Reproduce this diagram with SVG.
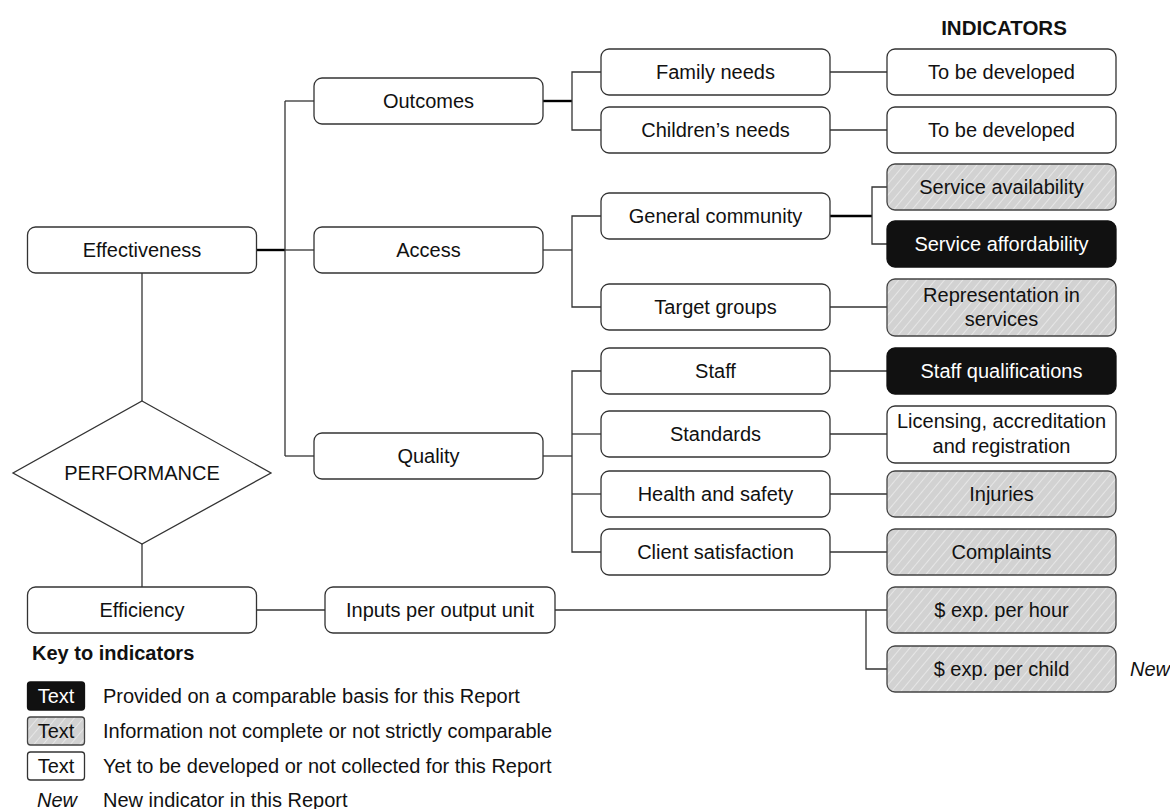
<svg xmlns="http://www.w3.org/2000/svg" width="1170" height="809" viewBox="0 0 1170 809">
<style>
  .box { fill: #ffffff; stroke: #333333; stroke-width: 1.3; }
  .hatch { fill: url(#hatch); stroke: #444444; stroke-width: 1.3; }
  .black { fill: #111111; stroke: #111111; stroke-width: 1.3; }
  .t { font-family: "Liberation Sans", Arial, sans-serif; font-size: 20px; fill: #111111; text-anchor: middle; }
  .tw { font-family: "Liberation Sans", Arial, sans-serif; font-size: 20px; fill: #ffffff; text-anchor: middle; }
  .tl { font-family: "Liberation Sans", Arial, sans-serif; font-size: 20px; fill: #111111; }
  .b { font-weight: bold; }
  .i { font-style: italic; }
  .c { stroke: #333333; stroke-width: 1.3; fill: none; }
  .ck { stroke: #000000; stroke-width: 2.4; fill: none; }
</style>
<defs>
  <pattern id="hatch" patternUnits="userSpaceOnUse" width="7" height="7" patternTransform="rotate(40)">
    <rect width="7" height="7" fill="#d2d2d2"/>
    <line x1="0" y1="0" x2="0" y2="7" stroke="#f2f2f2" stroke-width="1.3"/>
  </pattern>
</defs>
<rect width="1170" height="809" fill="#ffffff"/>

<g id="connectors">
  <line class="ck" x1="256" y1="250" x2="285" y2="250"/>
  <line class="c" x1="285" y1="101" x2="285" y2="456"/>
  <line class="c" x1="285" y1="101" x2="314" y2="101"/>
  <line class="c" x1="285" y1="250" x2="314" y2="250"/>
  <line class="c" x1="285" y1="456" x2="314" y2="456"/>
  <line class="c" x1="142" y1="273" x2="142" y2="401"/>
  <line class="c" x1="142" y1="544" x2="142" y2="587"/>
  <line class="ck" x1="543" y1="101" x2="572" y2="101"/>
  <polyline class="c" points="601,72 572,72 572,130 601,130"/>
  <line class="c" x1="543" y1="250" x2="572" y2="250"/>
  <polyline class="c" points="601,216 572,216 572,307 601,307"/>
  <line class="c" x1="543" y1="456" x2="572" y2="456"/>
  <polyline class="c" points="601,371 572,371 572,552 601,552"/>
  <line class="c" x1="572" y1="434" x2="601" y2="434"/>
  <line class="c" x1="572" y1="494" x2="601" y2="494"/>
  <line class="c" x1="830" y1="72" x2="887" y2="72"/>
  <line class="c" x1="830" y1="130" x2="887" y2="130"/>
  <line class="ck" x1="830" y1="216" x2="872" y2="216"/>
  <polyline class="c" points="887,187 872,187 872,244 887,244"/>
  <line class="c" x1="830" y1="307" x2="887" y2="307"/>
  <line class="c" x1="830" y1="371" x2="887" y2="371"/>
  <line class="c" x1="830" y1="434" x2="887" y2="434"/>
  <line class="c" x1="830" y1="494" x2="887" y2="494"/>
  <line class="c" x1="830" y1="552" x2="887" y2="552"/>
  <line class="c" x1="256" y1="610" x2="325" y2="610"/>
  <line class="c" x1="555" y1="610" x2="887" y2="610"/>
  <polyline class="c" points="866,610 866,669 887,669"/>
</g>

<g id="indicators-title"><text class="t b" x="1004" y="35" style="font-size:20.5px">INDICATORS</text></g>

<g id="performance">
  <polygon points="142,401 271,473 142,544 13,473" fill="#ffffff" stroke="#333333" stroke-width="1.3"/>
  <text class="t" x="142" y="480">PERFORMANCE</text>
</g>
<g id="effectiveness"><rect class="box" x="27.5" y="227" width="229" height="46" rx="8"/><text class="t" x="142" y="257">Effectiveness</text></g>
<g id="efficiency"><rect class="box" x="27.5" y="587" width="229" height="46" rx="8"/><text class="t" x="142" y="617">Efficiency</text></g>
<g id="outcomes"><rect class="box" x="314" y="78" width="229" height="46" rx="8"/><text class="t" x="428.5" y="108">Outcomes</text></g>
<g id="access"><rect class="box" x="314" y="227" width="229" height="46" rx="8"/><text class="t" x="428.5" y="257">Access</text></g>
<g id="quality"><rect class="box" x="314" y="433" width="229" height="46" rx="8"/><text class="t" x="428.5" y="463">Quality</text></g>
<g id="inputs"><rect class="box" x="325" y="587" width="230" height="46" rx="8"/><text class="t" x="440" y="617">Inputs per output unit</text></g>

<g id="family-needs"><rect class="box" x="601" y="49" width="229" height="46" rx="8"/><text class="t" x="715.5" y="79">Family needs</text></g>
<g id="childrens-needs"><rect class="box" x="601" y="107" width="229" height="46" rx="8"/><text class="t" x="715.5" y="137">Children’s needs</text></g>
<g id="general-community"><rect class="box" x="601" y="193" width="229" height="46" rx="8"/><text class="t" x="715.5" y="223">General community</text></g>
<g id="target-groups"><rect class="box" x="601" y="284" width="229" height="46" rx="8"/><text class="t" x="715.5" y="314">Target groups</text></g>
<g id="staff"><rect class="box" x="601" y="348" width="229" height="46" rx="8"/><text class="t" x="715.5" y="378">Staff</text></g>
<g id="standards"><rect class="box" x="601" y="411" width="229" height="46" rx="8"/><text class="t" x="715.5" y="441">Standards</text></g>
<g id="health-safety"><rect class="box" x="601" y="471" width="229" height="46" rx="8"/><text class="t" x="715.5" y="501">Health and safety</text></g>
<g id="client-satisfaction"><rect class="box" x="601" y="529" width="229" height="46" rx="8"/><text class="t" x="715.5" y="559">Client satisfaction</text></g>

<g id="tbd1"><rect class="box" x="887" y="49" width="229" height="46" rx="8"/><text class="t" x="1001.5" y="79">To be developed</text></g>
<g id="tbd2"><rect class="box" x="887" y="107" width="229" height="46" rx="8"/><text class="t" x="1001.5" y="137">To be developed</text></g>
<g id="service-availability"><rect class="hatch" x="887" y="164" width="229" height="46" rx="8"/><text class="t" x="1001.5" y="194">Service availability</text></g>
<g id="service-affordability"><rect class="black" x="887" y="221" width="229" height="46" rx="8"/><text class="tw" x="1001.5" y="251">Service affordability</text></g>
<g id="representation"><rect class="hatch" x="887" y="279" width="229" height="57" rx="8"/><text class="t" x="1001.5" y="302">Representation in</text><text class="t" x="1001.5" y="326">services</text></g>
<g id="staff-qualifications"><rect class="black" x="887" y="348" width="229" height="46" rx="8"/><text class="tw" x="1001.5" y="378">Staff qualifications</text></g>
<g id="licensing"><rect class="box" x="887" y="406" width="229" height="57" rx="8"/><text class="t" x="1001.5" y="428">Licensing, accreditation</text><text class="t" x="1001.5" y="453">and registration</text></g>
<g id="injuries"><rect class="hatch" x="887" y="471" width="229" height="46" rx="8"/><text class="t" x="1001.5" y="501">Injuries</text></g>
<g id="complaints"><rect class="hatch" x="887" y="529" width="229" height="46" rx="8"/><text class="t" x="1001.5" y="559">Complaints</text></g>
<g id="exp-hour"><rect class="hatch" x="887" y="587" width="229" height="46" rx="8"/><text class="t" x="1001.5" y="617">$ exp. per hour</text></g>
<g id="exp-child"><rect class="hatch" x="887" y="646" width="229" height="46" rx="8"/><text class="t" x="1001.5" y="676">$ exp. per child</text></g>
<g id="new-label"><text class="tl i" x="1130" y="676">New</text></g>

<g id="legend">
  <text class="tl b" x="32" y="660">Key to indicators</text>
  <rect class="black" x="27.5" y="682" width="57" height="28" rx="3"/>
  <text class="tw" x="56" y="703">Text</text>
  <text class="tl" x="103" y="703">Provided on a comparable basis for this Report</text>
  <rect class="hatch" x="27.5" y="717" width="57" height="28" rx="3"/>
  <text class="t" x="56" y="738">Text</text>
  <text class="tl" x="103" y="738">Information not complete or not strictly comparable</text>
  <rect class="box" x="27.5" y="752" width="57" height="28" rx="3"/>
  <text class="t" x="56" y="773">Text</text>
  <text class="tl" x="103" y="773">Yet to be developed or not collected for this Report</text>
  <text class="tl i" x="37" y="807">New</text>
  <text class="tl" x="103" y="807">New indicator in this Report</text>
</g>
</svg>
